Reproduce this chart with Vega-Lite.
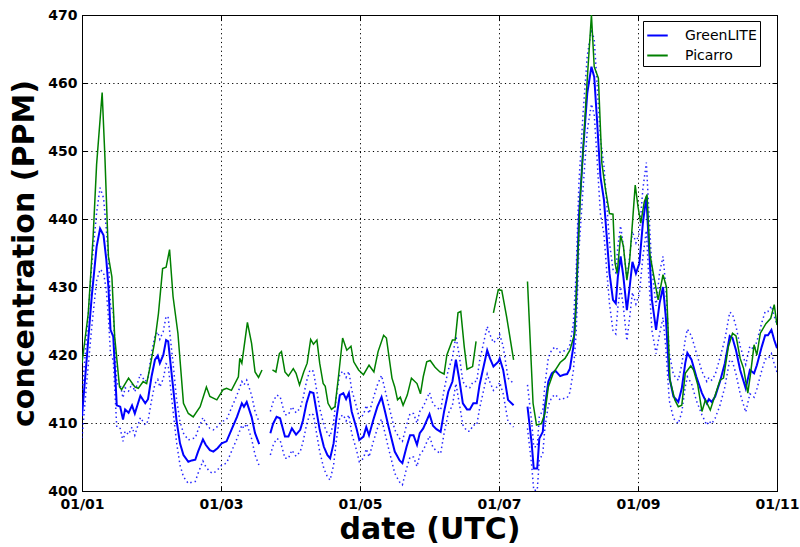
{
  "$schema": "https://vega.github.io/schema/vega-lite/v6.json",
  "width": 695,
  "height": 476,
  "autosize": {"type": "none"},
  "padding": {"left": 82, "top": 15, "right": 23, "bottom": 56},
  "background": "white",
  "config": {
    "view": {"stroke": "black", "strokeWidth": 1},
    "font": "DejaVu Sans",
    "axis": {
      "domainColor": "black",
      "tickColor": "black",
      "tickSize": -5,
      "labelPadding": 10,
      "labelFont": "DejaVu Sans",
      "labelFontWeight": "bold",
      "labelFontSize": 14,
      "labelColor": "black",
      "labelFlush": false,
      "labelOverlap": false,
      "titleFont": "DejaVu Sans",
      "titleFontWeight": "bold",
      "titleFontSize": 30,
      "titleColor": "black",
      "gridColor": "black",
      "gridDash": [1.2, 3.2],
      "gridOpacity": 1,
      "gridWidth": 1
    },
    "legend": {
      "orient": "none",
      "legendX": 561,
      "legendY": 6,
      "padding": 3,
      "strokeColor": "black",
      "strokeWidth": 1,
      "fillColor": "white",
      "cornerRadius": 0,
      "labelFont": "DejaVu Sans",
      "labelFontSize": 14,
      "labelColor": "black",
      "labelOffset": 16,
      "symbolType": "stroke",
      "symbolSize": 420,
      "symbolStrokeWidth": 2,
      "rowPadding": 1
    }
  },
  "datasets": {
    "blue": [
      {"d":0.00,"v":411,"lo":407.8,"hi":414.2},
      {"d":0.07,"v":419.7,"lo":416.2,"hi":423.2},
      {"d":0.14,"v":428.6,"lo":424.1,"hi":433.1},
      {"d":0.21,"v":435.9,"lo":430.9,"hi":440.9},
      {"d":0.26,"v":438.6,"lo":432.6,"hi":444.6},
      {"d":0.31,"v":437.6,"lo":432.1,"hi":443.1},
      {"d":0.35,"v":434,"lo":429.5,"hi":438.5},
      {"d":0.38,"v":430,"lo":425.5,"hi":434.5},
      {"d":0.41,"v":423.7,"lo":420.2,"hi":427.2},
      {"d":0.45,"v":422.7,"lo":419.2,"hi":426.2},
      {"d":0.50,"v":412.6,"lo":409.4,"hi":415.8},
      {"d":0.55,"v":412.4,"lo":409.2,"hi":415.6},
      {"d":0.59,"v":410.5,"lo":407.3,"hi":413.7},
      {"d":0.62,"v":412,"lo":408.8,"hi":415.2},
      {"d":0.67,"v":411.5,"lo":408.3,"hi":414.7},
      {"d":0.72,"v":412.6,"lo":409.4,"hi":415.8},
      {"d":0.76,"v":411.4,"lo":408.2,"hi":414.6},
      {"d":0.84,"v":414,"lo":410.8,"hi":417.2},
      {"d":0.91,"v":412.9,"lo":409.7,"hi":416.1},
      {"d":0.95,"v":413.5,"lo":410.3,"hi":416.7},
      {"d":1.00,"v":416.8,"lo":413.3,"hi":420.3},
      {"d":1.05,"v":419.3,"lo":415.8,"hi":422.8},
      {"d":1.09,"v":419.9,"lo":416.4,"hi":423.4},
      {"d":1.12,"v":418.8,"lo":415.3,"hi":422.3},
      {"d":1.17,"v":420,"lo":416.5,"hi":423.5},
      {"d":1.21,"v":422.2,"lo":418.7,"hi":425.7},
      {"d":1.24,"v":422,"lo":418.5,"hi":425.5},
      {"d":1.31,"v":415.3,"lo":411.8,"hi":418.8},
      {"d":1.36,"v":410.4,"lo":407.2,"hi":413.6},
      {"d":1.41,"v":407,"lo":403.8,"hi":410.2},
      {"d":1.46,"v":405.3,"lo":402.1,"hi":408.5},
      {"d":1.53,"v":404.3,"lo":401.1,"hi":407.5},
      {"d":1.58,"v":404.5,"lo":401.3,"hi":407.7},
      {"d":1.63,"v":404.6,"lo":401.4,"hi":407.8},
      {"d":1.67,"v":405.8,"lo":402.6,"hi":409},
      {"d":1.74,"v":407.6,"lo":404.4,"hi":410.8},
      {"d":1.78,"v":406.8,"lo":403.6,"hi":410},
      {"d":1.84,"v":406,"lo":402.8,"hi":409.2},
      {"d":1.89,"v":405.8,"lo":402.6,"hi":409},
      {"d":1.95,"v":406.3,"lo":403.1,"hi":409.5},
      {"d":2.01,"v":407,"lo":403.8,"hi":410.2},
      {"d":2.08,"v":407.3,"lo":404.1,"hi":410.5},
      {"d":2.15,"v":409,"lo":405.8,"hi":412.2},
      {"d":2.23,"v":410.9,"lo":407.7,"hi":414.1},
      {"d":2.30,"v":412.9,"lo":409.7,"hi":416.1},
      {"d":2.33,"v":412.4,"lo":409.2,"hi":415.6},
      {"d":2.37,"v":413.1,"lo":409.9,"hi":416.3},
      {"d":2.44,"v":410.9,"lo":407.7,"hi":414.1},
      {"d":2.49,"v":408.5,"lo":405.3,"hi":411.7},
      {"d":2.55,"v":406.9,"lo":403.7,"hi":410.1},
      {"d":2.62,"v":null,"lo":null,"hi":null},
      {"d":2.71,"v":408.5,"lo":405.3,"hi":411.7},
      {"d":2.75,"v":409.9,"lo":406.7,"hi":413.1},
      {"d":2.80,"v":410.9,"lo":407.7,"hi":414.1},
      {"d":2.85,"v":410.7,"lo":407.5,"hi":413.9},
      {"d":2.92,"v":408,"lo":404.8,"hi":411.2},
      {"d":2.97,"v":408,"lo":404.8,"hi":411.2},
      {"d":3.02,"v":409.2,"lo":406,"hi":412.4},
      {"d":3.08,"v":408.3,"lo":405.1,"hi":411.5},
      {"d":3.14,"v":409,"lo":405.8,"hi":412.2},
      {"d":3.18,"v":410.4,"lo":407.2,"hi":413.6},
      {"d":3.23,"v":412.9,"lo":409.7,"hi":416.1},
      {"d":3.28,"v":414.6,"lo":411.4,"hi":417.8},
      {"d":3.33,"v":414.4,"lo":411.2,"hi":417.6},
      {"d":3.38,"v":411.4,"lo":408.2,"hi":414.6},
      {"d":3.42,"v":409,"lo":405.8,"hi":412.2},
      {"d":3.48,"v":406.5,"lo":403.3,"hi":409.7},
      {"d":3.53,"v":405.3,"lo":402.1,"hi":408.5},
      {"d":3.57,"v":404.8,"lo":401.6,"hi":408},
      {"d":3.62,"v":407,"lo":403.8,"hi":410.2},
      {"d":3.66,"v":410.7,"lo":407.5,"hi":413.9},
      {"d":3.71,"v":414.1,"lo":410.9,"hi":417.3},
      {"d":3.76,"v":414.4,"lo":411.2,"hi":417.6},
      {"d":3.80,"v":413.5,"lo":410.3,"hi":416.7},
      {"d":3.84,"v":414.4,"lo":411.2,"hi":417.6},
      {"d":3.88,"v":411.7,"lo":408.5,"hi":414.9},
      {"d":3.95,"v":409.2,"lo":406,"hi":412.4},
      {"d":3.99,"v":407.5,"lo":404.3,"hi":410.7},
      {"d":4.05,"v":408,"lo":404.8,"hi":411.2},
      {"d":4.09,"v":409.4,"lo":406.2,"hi":412.6},
      {"d":4.13,"v":408.2,"lo":405,"hi":411.4},
      {"d":4.19,"v":410.4,"lo":407.2,"hi":413.6},
      {"d":4.25,"v":412.4,"lo":409.2,"hi":415.6},
      {"d":4.31,"v":413.8,"lo":410.6,"hi":417},
      {"d":4.36,"v":411.7,"lo":408.5,"hi":414.9},
      {"d":4.41,"v":409.5,"lo":406.3,"hi":412.7},
      {"d":4.50,"v":405.8,"lo":402.6,"hi":409},
      {"d":4.57,"v":404.5,"lo":401.3,"hi":407.7},
      {"d":4.61,"v":404.1,"lo":400.9,"hi":407.3},
      {"d":4.67,"v":406.5,"lo":403.3,"hi":409.7},
      {"d":4.72,"v":408.2,"lo":405,"hi":411.4},
      {"d":4.77,"v":408.2,"lo":405,"hi":411.4},
      {"d":4.82,"v":406.8,"lo":403.6,"hi":410},
      {"d":4.86,"v":408.5,"lo":405.3,"hi":411.7},
      {"d":4.91,"v":409.2,"lo":406,"hi":412.4},
      {"d":5.00,"v":411.3,"lo":408.1,"hi":414.5},
      {"d":5.05,"v":409.6,"lo":406.4,"hi":412.8},
      {"d":5.10,"v":409.1,"lo":405.9,"hi":412.3},
      {"d":5.16,"v":408.7,"lo":405.5,"hi":411.9},
      {"d":5.21,"v":411.7,"lo":408.5,"hi":414.9},
      {"d":5.27,"v":414.6,"lo":411.4,"hi":417.8},
      {"d":5.33,"v":416.1,"lo":412.6,"hi":419.6},
      {"d":5.38,"v":419.3,"lo":415.8,"hi":422.8},
      {"d":5.43,"v":416.3,"lo":412.8,"hi":419.8},
      {"d":5.48,"v":412.9,"lo":409.7,"hi":416.1},
      {"d":5.54,"v":412,"lo":408.8,"hi":415.2},
      {"d":5.58,"v":412,"lo":408.8,"hi":415.2},
      {"d":5.63,"v":412.9,"lo":409.7,"hi":416.1},
      {"d":5.68,"v":412.9,"lo":409.7,"hi":416.1},
      {"d":5.72,"v":415.6,"lo":412.1,"hi":419.1},
      {"d":5.77,"v":417.9,"lo":414.4,"hi":421.4},
      {"d":5.83,"v":420.7,"lo":417.2,"hi":424.2},
      {"d":5.87,"v":419.5,"lo":416,"hi":423},
      {"d":5.92,"v":418.3,"lo":414.8,"hi":421.8},
      {"d":5.99,"v":419,"lo":415.5,"hi":422.5},
      {"d":6.01,"v":419.5,"lo":416,"hi":423},
      {"d":6.06,"v":417.8,"lo":414.3,"hi":421.3},
      {"d":6.13,"v":413.4,"lo":410.2,"hi":416.6},
      {"d":6.21,"v":412.6,"lo":409.4,"hi":415.8},
      {"d":6.30,"v":null,"lo":null,"hi":null},
      {"d":6.41,"v":412.4,"lo":409.2,"hi":415.6},
      {"d":6.47,"v":407,"lo":403.8,"hi":410.2},
      {"d":6.50,"v":403.3,"lo":400.1,"hi":406.5},
      {"d":6.55,"v":403.3,"lo":400.1,"hi":406.5},
      {"d":6.58,"v":407.7,"lo":404.5,"hi":410.9},
      {"d":6.63,"v":408.7,"lo":405.5,"hi":411.9},
      {"d":6.66,"v":412.4,"lo":409.2,"hi":415.6},
      {"d":6.71,"v":416.1,"lo":412.6,"hi":419.6},
      {"d":6.76,"v":417.3,"lo":413.8,"hi":420.8},
      {"d":6.81,"v":417.7,"lo":414.2,"hi":421.2},
      {"d":6.88,"v":416.9,"lo":413.4,"hi":420.4},
      {"d":6.93,"v":417.1,"lo":413.6,"hi":420.6},
      {"d":6.98,"v":417.2,"lo":413.7,"hi":420.7},
      {"d":7.02,"v":418,"lo":414.5,"hi":421.5},
      {"d":7.07,"v":421.2,"lo":417.7,"hi":424.7},
      {"d":7.11,"v":427.6,"lo":423.1,"hi":432.1},
      {"d":7.15,"v":440.3,"lo":435.3,"hi":445.3},
      {"d":7.21,"v":450.1,"lo":444.6,"hi":455.6},
      {"d":7.27,"v":458.5,"lo":453,"hi":464},
      {"d":7.33,"v":462.4,"lo":456.9,"hi":467.9},
      {"d":7.37,"v":460.9,"lo":455.4,"hi":466.4},
      {"d":7.41,"v":454.6,"lo":449.1,"hi":460.1},
      {"d":7.43,"v":451.1,"lo":445.6,"hi":456.6},
      {"d":7.46,"v":446.2,"lo":440.7,"hi":451.7},
      {"d":7.51,"v":442.8,"lo":437.8,"hi":447.8},
      {"d":7.55,"v":437.4,"lo":432.4,"hi":442.4},
      {"d":7.59,"v":432,"lo":427.5,"hi":436.5},
      {"d":7.64,"v":428.1,"lo":423.6,"hi":432.6},
      {"d":7.68,"v":427.6,"lo":423.1,"hi":432.1},
      {"d":7.71,"v":431.5,"lo":427,"hi":436},
      {"d":7.75,"v":434.5,"lo":430,"hi":439},
      {"d":7.79,"v":431.5,"lo":427,"hi":436},
      {"d":7.84,"v":426.6,"lo":422.1,"hi":431.1},
      {"d":7.88,"v":430,"lo":425.5,"hi":434.5},
      {"d":7.92,"v":433.7,"lo":429.2,"hi":438.2},
      {"d":7.97,"v":432,"lo":427.5,"hi":436.5},
      {"d":8.02,"v":433.5,"lo":429,"hi":438},
      {"d":8.07,"v":439.4,"lo":434.4,"hi":444.4},
      {"d":8.12,"v":443.3,"lo":438.3,"hi":448.3},
      {"d":8.15,"v":437.4,"lo":432.4,"hi":442.4},
      {"d":8.20,"v":428.1,"lo":423.6,"hi":432.6},
      {"d":8.26,"v":423.7,"lo":420.2,"hi":427.2},
      {"d":8.31,"v":427.6,"lo":423.1,"hi":432.1},
      {"d":8.36,"v":430,"lo":425.5,"hi":434.5},
      {"d":8.40,"v":425.6,"lo":421.1,"hi":430.1},
      {"d":8.45,"v":416.8,"lo":413.3,"hi":420.3},
      {"d":8.51,"v":413.9,"lo":410.7,"hi":417.1},
      {"d":8.58,"v":413.1,"lo":409.9,"hi":416.3},
      {"d":8.63,"v":415.1,"lo":411.6,"hi":418.6},
      {"d":8.68,"v":418.8,"lo":415.3,"hi":422.3},
      {"d":8.71,"v":420.3,"lo":416.8,"hi":423.8},
      {"d":8.77,"v":419.3,"lo":415.8,"hi":422.8},
      {"d":8.84,"v":416.8,"lo":413.3,"hi":420.3},
      {"d":8.92,"v":414.4,"lo":411.2,"hi":417.6},
      {"d":8.99,"v":412.9,"lo":409.7,"hi":416.1},
      {"d":9.02,"v":413.5,"lo":410.3,"hi":416.7},
      {"d":9.06,"v":413.1,"lo":409.9,"hi":416.3},
      {"d":9.11,"v":413.9,"lo":410.7,"hi":417.1},
      {"d":9.18,"v":416.1,"lo":412.6,"hi":419.6},
      {"d":9.25,"v":418.8,"lo":415.3,"hi":422.3},
      {"d":9.32,"v":422.8,"lo":419.3,"hi":426.3},
      {"d":9.36,"v":422.5,"lo":419,"hi":426},
      {"d":9.41,"v":420.7,"lo":417.2,"hi":424.2},
      {"d":9.47,"v":417.8,"lo":414.3,"hi":421.3},
      {"d":9.55,"v":415.1,"lo":411.6,"hi":418.6},
      {"d":9.61,"v":417.8,"lo":414.3,"hi":421.3},
      {"d":9.67,"v":417.3,"lo":413.8,"hi":420.8},
      {"d":9.71,"v":418.5,"lo":415,"hi":422},
      {"d":9.78,"v":421.2,"lo":417.7,"hi":424.7},
      {"d":9.83,"v":422.9,"lo":419.4,"hi":426.4},
      {"d":9.87,"v":422.9,"lo":419.4,"hi":426.4},
      {"d":9.92,"v":423.7,"lo":420.2,"hi":427.2},
      {"d":9.96,"v":422.2,"lo":418.7,"hi":425.7},
      {"d":10.00,"v":421,"lo":417.5,"hi":424.5}
    ],
    "green": [
      {"d":0.00,"v":418.8},{"d":0.09,"v":426.1},{"d":0.16,"v":437.4},{"d":0.21,"v":448},
      {"d":0.26,"v":454.6},{"d":0.29,"v":458.6},{"d":0.33,"v":449},{"d":0.38,"v":434.5},
      {"d":0.43,"v":431.5},{"d":0.47,"v":422.7},{"d":0.54,"v":415.3},{"d":0.57,"v":414.9},
      {"d":0.67,"v":416.6},{"d":0.76,"v":415.3},{"d":0.81,"v":415.1},{"d":0.88,"v":416.1},
      {"d":0.93,"v":415.8},{"d":0.98,"v":418.3},{"d":1.05,"v":422.2},{"d":1.10,"v":426.1},
      {"d":1.16,"v":432.7},{"d":1.21,"v":432.9},{"d":1.26,"v":435.5},{"d":1.31,"v":428.6},
      {"d":1.38,"v":423.2},{"d":1.46,"v":412.9},{"d":1.53,"v":411.4},{"d":1.60,"v":410.9},
      {"d":1.70,"v":412.4},{"d":1.79,"v":415.3},{"d":1.84,"v":413.9},{"d":1.94,"v":413.4},
      {"d":2.03,"v":414.9},{"d":2.08,"v":415.1},{"d":2.15,"v":414.8},{"d":2.25,"v":416.8},
      {"d":2.27,"v":419.5},{"d":2.30,"v":418.8},{"d":2.38,"v":424.8},{"d":2.44,"v":421.7},
      {"d":2.49,"v":417.5},{"d":2.54,"v":416.7},{"d":2.59,"v":417.8},{"d":2.62,"v":null},
      {"d":2.74,"v":417.8},{"d":2.79,"v":417.5},{"d":2.84,"v":420.2},{"d":2.87,"v":420.5},
      {"d":2.92,"v":417.5},{"d":2.97,"v":416.9},{"d":3.04,"v":418},{"d":3.08,"v":417.3},
      {"d":3.13,"v":415.6},{"d":3.19,"v":417.5},{"d":3.24,"v":418.8},{"d":3.29,"v":422.3},
      {"d":3.33,"v":421.6},{"d":3.38,"v":422.2},{"d":3.42,"v":418.8},{"d":3.47,"v":415.8},
      {"d":3.50,"v":415.4},{"d":3.54,"v":412.9},{"d":3.59,"v":412},{"d":3.64,"v":412.4},
      {"d":3.69,"v":416.8},{"d":3.75,"v":422.5},{"d":3.81,"v":420.7},{"d":3.87,"v":421.3},
      {"d":3.91,"v":419},{"d":3.98,"v":417.8},{"d":4.05,"v":417.1},{"d":4.13,"v":418.5},
      {"d":4.20,"v":417.5},{"d":4.26,"v":420.5},{"d":4.34,"v":422.9},{"d":4.38,"v":422.5},
      {"d":4.46,"v":416.6},{"d":4.50,"v":415.3},{"d":4.54,"v":413.4},{"d":4.58,"v":413.8},
      {"d":4.62,"v":412.6},{"d":4.68,"v":414.1},{"d":4.74,"v":416.6},{"d":4.82,"v":415.8},
      {"d":4.87,"v":414.3},{"d":4.91,"v":416.8},{"d":4.96,"v":419},{"d":5.01,"v":419.2},
      {"d":5.08,"v":418.2},{"d":5.15,"v":417.5},{"d":5.21,"v":417.2},{"d":5.25,"v":420},
      {"d":5.33,"v":422.2},{"d":5.37,"v":422.2},{"d":5.41,"v":426.2},{"d":5.45,"v":426.4},
      {"d":5.50,"v":421.2},{"d":5.54,"v":417.9},{"d":5.62,"v":418.3},{"d":5.67,"v":422},
      {"d":5.70,"v":null},
      {"d":5.92,"v":426.2},{"d":5.99,"v":429.6},{"d":6.04,"v":429.5},{"d":6.11,"v":425.6},
      {"d":6.21,"v":419.3},{"d":6.30,"v":null},
      {"d":6.41,"v":430.8},{"d":6.49,"v":412.9},{"d":6.54,"v":409.7},{"d":6.61,"v":409.9},
      {"d":6.66,"v":411.4},{"d":6.71,"v":415.3},{"d":6.78,"v":417.3},{"d":6.88,"v":418.9},
      {"d":6.95,"v":419.5},{"d":7.02,"v":420.7},{"d":7.09,"v":423.2},{"d":7.17,"v":443.3},
      {"d":7.21,"v":450.1},{"d":7.26,"v":459},{"d":7.33,"v":470},{"d":7.37,"v":462.4},
      {"d":7.43,"v":460.7},{"d":7.48,"v":448.2},{"d":7.53,"v":444.5},{"d":7.59,"v":440.8},
      {"d":7.64,"v":440.7},{"d":7.67,"v":433.5},{"d":7.70,"v":432},{"d":7.75,"v":437.6},
      {"d":7.79,"v":436},{"d":7.84,"v":431},{"d":7.88,"v":434},{"d":7.92,"v":439.4},
      {"d":7.96,"v":445},{"d":8.00,"v":441.8},{"d":8.04,"v":439.4},{"d":8.09,"v":442.5},
      {"d":8.13,"v":443.6},{"d":8.17,"v":434.9},{"d":8.22,"v":432},{"d":8.29,"v":428.1},
      {"d":8.36,"v":431.8},{"d":8.41,"v":430},{"d":8.46,"v":416.3},{"d":8.53,"v":413.4},
      {"d":8.58,"v":412.4},{"d":8.63,"v":412.6},{"d":8.68,"v":417.3},{"d":8.76,"v":418.4},
      {"d":8.80,"v":417.8},{"d":8.86,"v":415.6},{"d":8.92,"v":411.7},{"d":8.97,"v":413.4},
      {"d":9.04,"v":411.9},{"d":9.11,"v":414.1},{"d":9.18,"v":416.3},{"d":9.23,"v":416.6},
      {"d":9.30,"v":421.2},{"d":9.36,"v":423.2},{"d":9.41,"v":422.8},{"d":9.47,"v":419.5},
      {"d":9.52,"v":418},{"d":9.58,"v":414.4},{"d":9.62,"v":417.3},{"d":9.67,"v":421.5},
      {"d":9.71,"v":420},{"d":9.76,"v":423.2},{"d":9.84,"v":424.6},{"d":9.91,"v":425.4},
      {"d":9.96,"v":427.4},{"d":10.00,"v":424.4}
    ]
  },
  "layer": [
    {
      "data": {"name": "blue"},
      "mark": {"type": "line", "color": "#0000ff", "strokeWidth": 1.5, "strokeDash": [1.5, 3], "opacity": 0.85, "invalid": "break-paths-filter-domains", "clip": true},
      "encoding": {
        "x": {"field": "d", "type": "quantitative",
          "scale": {"domain": [0, 10], "nice": false, "zero": false},
          "axis": {"orient": "bottom", "title": "date (UTC)", "titlePadding": 3, "labelPadding": 11, "values": [0, 2, 4, 6, 8, 10],
            "labelExpr": "'01/' + (datum.value < 9 ? '0' : '') + (datum.value + 1)", "grid": true}},
        "y": {"field": "hi", "type": "quantitative",
          "scale": {"domain": [400, 470], "nice": false, "zero": false},
          "axis": {"orient": "left", "title": "concentration (PPM)", "titlePadding": 8, "values": [400, 410, 420, 430, 440, 450, 460, 470], "grid": true}}
      }
    },
    {
      "data": {"name": "blue"},
      "mark": {"type": "line", "color": "#0000ff", "strokeWidth": 1.5, "strokeDash": [1.5, 3], "opacity": 0.85, "invalid": "break-paths-filter-domains", "clip": true},
      "encoding": {
        "x": {"field": "d", "type": "quantitative",
          "axis": {"orient": "top", "title": null, "labels": false, "grid": false, "values": [0, 2, 4, 6, 8, 10]}},
        "y": {"field": "lo", "type": "quantitative",
          "axis": {"orient": "right", "title": null, "labels": false, "grid": false, "values": [400, 410, 420, 430, 440, 450, 460, 470]}}
      }
    },
    {
      "data": {"name": "blue"},
      "mark": {"type": "line", "strokeWidth": 2, "invalid": "break-paths-filter-domains", "clip": true},
      "encoding": {
        "x": {"field": "d", "type": "quantitative", "axis": null},
        "y": {"field": "v", "type": "quantitative", "axis": null},
        "color": {"datum": "GreenLITE", "type": "nominal",
          "scale": {"domain": ["GreenLITE", "Picarro"], "range": ["#0000ff", "#008000"]},
          "legend": {"title": null}}
      }
    },
    {
      "data": {"name": "green"},
      "mark": {"type": "line", "strokeWidth": 1.5, "invalid": "break-paths-filter-domains", "clip": true},
      "encoding": {
        "x": {"field": "d", "type": "quantitative", "axis": null},
        "y": {"field": "v", "type": "quantitative", "axis": null},
        "color": {"datum": "Picarro", "type": "nominal"}
      }
    }
  ]
}
